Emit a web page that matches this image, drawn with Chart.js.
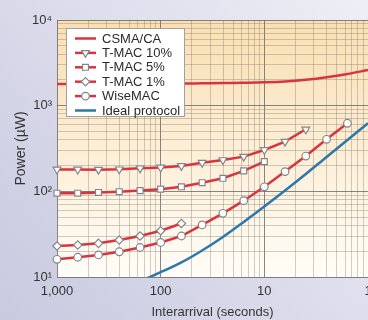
<!DOCTYPE html>
<html><head><meta charset="utf-8">
<script src="https://cdn.jsdelivr.net/npm/chart.js@4.4.1/dist/chart.umd.min.js"></script>
<style>
html,body{margin:0;padding:0;overflow:hidden;width:368px;height:320px;background:#d8d8ea}
#wrap{width:380px;height:320px}
</style></head>
<body><div id="wrap"><canvas id="c" width="380" height="320"></canvas></div>
<script>
// ---- data (interarrival in seconds, power in µW) ----
const interarrival = [1000, 631, 398, 251, 158, 100, 63.1, 39.8, 25.1, 15.8, 10, 6.31, 3.98, 2.51, 1.58, 1];
const csmaCA   = [1790, 1790, 1790, 1790, 1795, 1800, 1810, 1825, 1840, 1854, 1874, 1915, 2004, 2144, 2342, 2609];
const tmac10   = [180, 180, 179, 181, 186, 190, 198, 216, 232, 254, 304, 380, 530];
const tmac5    = [95, 95, 97, 99, 102, 106, 113, 126, 142, 173, 222];
const tmac1    = [23.0, 23.6, 24.7, 27.0, 30.1, 34.7, 42.1];
const wiseMAC  = [16.1, 17.0, 18.1, 19.7, 22.1, 25.3, 30.1, 40.5, 55.4, 77.8, 113, 170, 258, 405, 623];
const idealInterarrival = [158, 100, 63.1, 39.8, 25.1, 15.8, 10, 6.31, 3.98, 2.51, 1.58, 1];
const ideal    = [8.9, 11.4, 14.8, 20.4, 29.3, 43.9, 66.5, 102, 159, 252, 398, 623];
const seriesLabels = ['CSMA/CA', 'T-MAC 10%', 'T-MAC 5%', 'T-MAC 1%', 'WiseMAC', 'Ideal protocol'];
const xTickValues = [1000, 100, 10, 1];          // seconds
const xTickLabels = ['1,000', '100', '10', '1'];
const yTickValues = [10, 100, 1000, 10000];
const yTickLabels = ['10\u00B9', '10\u00B2', '10\u00B3', '10\u2074'];

// axis runs on 1000/interarrival so that the log grid matches the original
const toPts = (xs, ys) => ys.map((v, i) => ({ x: 1000 / xs[i], y: v }));

const RED = '#d8343f', BLUE = '#2c78aa', MK = '#858585';
const FAM = "'Liberation Sans', Arial, sans-serif";
const isMajor = v => Math.abs(Math.log10(v) - Math.round(Math.log10(v))) < 1e-9;
const MAJOR = 'rgba(95,95,95,0.75)', MINOR = 'rgba(125,115,100,0.35)';

function mkSet(label, data, style, radius, rot) {
  return { label, data, borderColor: RED, backgroundColor: RED, borderWidth: 2.5,
    pointStyle: style, pointRadius: radius, pointRotation: rot || 0,
    pointBackgroundColor: '#fff', pointBorderColor: MK, pointBorderWidth: 1.2,
    tension: 0, clip: false };
}

const datasets = [
  { label: seriesLabels[0], data: toPts(interarrival, csmaCA), borderColor: RED, borderWidth: 2.5,
    pointRadius: 0, cubicInterpolationMode: 'monotone', clip: false },
  mkSet(seriesLabels[1], toPts(interarrival, tmac10), 'triangle', 4.5, 180),
  mkSet(seriesLabels[2], toPts(interarrival, tmac5), 'rect', 4.2),
  mkSet(seriesLabels[3], toPts(interarrival, tmac1), 'rectRot', 4.2),
  mkSet(seriesLabels[4], toPts(interarrival, wiseMAC), 'circle', 3.8),
  { label: seriesLabels[5], data: toPts(idealInterarrival, ideal), borderColor: BLUE, borderWidth: 2.5,
    pointRadius: 0, cubicInterpolationMode: 'monotone', clip: { left: 5, right: 5, top: 5, bottom: 0 } }
];

function drawMarker(ctx, style, r, rot, x, y) {
  ctx.beginPath();
  if (style === 'circle') ctx.arc(x, y, r, 0, Math.PI * 2);
  else if (style === 'rect') { const s = Math.SQRT1_2 * r; ctx.rect(x - s, y - s, 2 * s, 2 * s); }
  else if (style === 'rectRot') { ctx.moveTo(x - r, y); ctx.lineTo(x, y - r); ctx.lineTo(x + r, y); ctx.lineTo(x, y + r); ctx.closePath(); }
  else if (style === 'triangle') {
    let a = (rot || 0) * Math.PI / 180;
    ctx.moveTo(x + Math.sin(a) * r, y - Math.cos(a) * r);
    a += 2 * Math.PI / 3; ctx.lineTo(x + Math.sin(a) * r, y - Math.cos(a) * r);
    a += 2 * Math.PI / 3; ctx.lineTo(x + Math.sin(a) * r, y - Math.cos(a) * r);
    ctx.closePath();
  }
  ctx.fill(); ctx.stroke();
}

const bgPlugin = {
  id: 'bg',
  beforeDraw(chart) {
    const { ctx, chartArea: a, width, height } = chart;
    ctx.save();
    const g = ctx.createLinearGradient(width, 0, 0, height);
    g.addColorStop(0, '#efeff6'); g.addColorStop(0.5, '#dcdcec'); g.addColorStop(1, '#c9c9e0');
    ctx.fillStyle = g; ctx.fillRect(0, 0, width, height);
    const p = ctx.createLinearGradient(0, a.top, 0, a.bottom);
    p.addColorStop(0, '#f9dfb2'); p.addColorStop(0.5, '#fdeed6'); p.addColorStop(1, '#fffdf8');
    ctx.fillStyle = p; ctx.fillRect(a.left, a.top, a.right - a.left, a.bottom - a.top);
    ctx.restore();
  }
};

const legendPlugin = {
  id: 'boxLegend',
  afterDraw(chart) {
    const ctx = chart.ctx;
    const x0 = 66, y0 = 28, w = 118, h = 88;
    ctx.save();
    ctx.fillStyle = '#ffffff'; ctx.fillRect(x0, y0, w, h);
    ctx.strokeStyle = '#a0a0a0'; ctx.lineWidth = 1; ctx.strokeRect(x0 + 0.5, y0 + 0.5, w, h);
    ctx.font = '13px ' + FAM; ctx.textBaseline = 'middle'; ctx.textAlign = 'left';
    chart.data.datasets.forEach((ds, i) => {
      const y = 38.5 + i * 14.4;
      ctx.strokeStyle = ds.borderColor; ctx.lineWidth = 2.5;
      ctx.beginPath(); ctx.moveTo(75, y); ctx.lineTo(96, y); ctx.stroke();
      if (ds.pointRadius > 0) {
        ctx.fillStyle = '#fff'; ctx.strokeStyle = MK; ctx.lineWidth = 1.2;
        drawMarker(ctx, ds.pointStyle, ds.pointRadius, ds.pointRotation, 85.5, y);
      }
      ctx.fillStyle = '#2a2a2a';
      ctx.fillText(ds.label, 102, y + 0.5);
    });
    ctx.restore();
  }
};

function logTicks(lo, hi) {
  const t = [];
  for (let d = lo; d < hi; d *= 10) for (let m = 1; m < 10; m++) t.push({ value: m * d });
  t.push({ value: hi });
  return t;
}

new Chart(document.getElementById('c'), {
  type: 'line',
  data: { datasets },
  options: {
    responsive: false, animation: false, devicePixelRatio: 1,
    layout: { padding: { left: 0, top: 20, right: 12, bottom: 0 } },
    plugins: { legend: { display: false }, tooltip: { enabled: false } },
    scales: {
      x: {
        type: 'logarithmic', min: 1, max: 1000,
        afterBuildTicks: s => { s.ticks = logTicks(1, 1000); },
        afterFit: s => { s.height = 43; },
        ticks: { autoSkip: false, maxRotation: 0, padding: 7, color: '#333', font: { family: FAM, size: 13 },
          callback: v => { const i = xTickValues.findIndex(t => Math.abs(1000 / t - v) < 1e-6); return i >= 0 ? xTickLabels[i] : ''; } },
        grid: { drawTicks: false, lineWidth: 1, color: c => (c.tick && isMajor(c.tick.value)) ? MAJOR : MINOR },
        border: { display: false },
        title: { display: true, text: 'Interarrival (seconds)', color: '#333', font: { family: FAM, size: 13 }, padding: { top: 0, bottom: 0 } }
      },
      y: {
        type: 'logarithmic', min: 10, max: 10000,
        afterBuildTicks: s => { s.ticks = logTicks(10, 10000); },
        afterFit: s => { s.width = 57; },
        ticks: { autoSkip: false, padding: 5, color: '#333', font: { family: FAM, size: 13 },
          callback: v => { const i = yTickValues.findIndex(t => Math.abs(t - v) < 1e-6); return i >= 0 ? yTickLabels[i] : ''; } },
        grid: { drawTicks: false, lineWidth: 1, color: c => (c.tick && isMajor(c.tick.value)) ? MAJOR : MINOR },
        border: { display: false },
        title: { display: true, text: 'Power (\u00B5W)', color: '#333', font: { family: FAM, size: 14 }, padding: { top: 13, bottom: 0 } }
      }
    }
  },
  plugins: [bgPlugin, legendPlugin]
});
</script>
</body></html>
